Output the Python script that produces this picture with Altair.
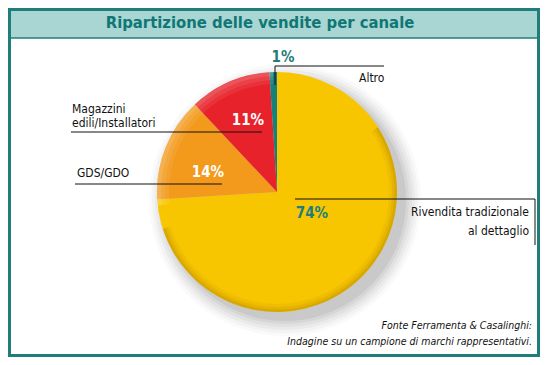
import altair as alt
import pandas as pd

# ---- data ----
categories = ["Rivendita tradizionale al dettaglio", "GDS/GDO",
              "Magazzini edili/Installatori", "Altro"]
values = [74, 14, 11, 1]
pct_labels = ["74%", "14%", "11%", "1%"]
colors = ["#f8c600", "#f39a1d", "#e8222b", "#16807c"]

title_text = "Ripartizione delle vendite per canale"
source_lines = ["Fonte Ferramenta & Casalinghi:",
                "Indagine su un campione di marchi rappresentativi."]

W, H = 532, 349
CX, CY, R = 269, 184, 120
TEAL = "#1f7e7b"
NARROW = "Liberation Sans Narrow, Arial Narrow, DejaVu Sans Condensed, sans-serif"

df = pd.DataFrame({"cat": categories, "value": values,
                   "idx": list(range(len(values)))})

base_xy = dict(x=alt.value(CX), y=alt.value(CY))
one = pd.DataFrame({"a": [0]})

# background title band
band = alt.Chart(one).mark_rect(color="#a9d6d3").encode(
    x=alt.value(0), x2=alt.value(W), y=alt.value(0), y2=alt.value(30))
band_line = alt.Chart(one).mark_rule(color=TEAL, strokeWidth=1.5).encode(
    x=alt.value(0), x2=alt.value(W), y=alt.value(30))

# soft shadow
shadow_layers = []
for k, op in [(16, 0.03), (13, 0.04), (10, 0.05), (7, 0.06), (4, 0.08), (1, 0.1)]:
    shadow_layers.append(
        alt.Chart(one).mark_arc(
            theta=0, theta2=6.2832, outerRadius=R + k, color="#555555", opacity=op
        ).encode(x=alt.value(CX + 8), y=alt.value(CY + 8)))

pie = alt.Chart(df).mark_arc(outerRadius=R).encode(
    theta=alt.Theta("value:Q", stack=True),
    color=alt.Color("cat:N", scale=alt.Scale(domain=categories, range=colors), legend=None),
    order=alt.Order("idx:Q"),
    **base_xy)

# rim shading (darker lower-right, lighter upper-left), graded
rim_layers = []
for w, op in [(8, 0.05), (5, 0.07), (2.5, 0.09)]:
    rim_layers.append(alt.Chart(one).mark_arc(
        theta=1.0, theta2=4.4, innerRadius=R - w, outerRadius=R, color="#5a3c00", opacity=op
    ).encode(**base_xy))
for w, op in [(12, 0.07), (8, 0.08), (4, 0.1)]:
    rim_layers.append(alt.Chart(one).mark_arc(
        theta=4.6, theta2=6.25, innerRadius=R - w, outerRadius=R, color="#ffffff", opacity=op
    ).encode(**base_xy))

# leader lines
lines = pd.DataFrame({
    "x": [267, 267, 63, 67, 287, 527],
    "x2": [376, 267, 254, 214, 527, 527],
    "y": [58, 58, 124, 176, 191, 191],
    "y2": [58, 77, 124, 176, 191, 237],
})
leaders = alt.Chart(lines).mark_rule(color="#111111", strokeWidth=1).encode(
    x=alt.X("x:Q", scale=None), x2="x2:Q",
    y=alt.Y("y:Q", scale=None), y2="y2:Q")


def text_layer(texts, xs, ys, align="left", size=12, weight="normal", color="#111111",
               style="normal", font=NARROW, baseline="alphabetic"):
    d = pd.DataFrame({"t": texts, "x": xs, "y": ys})
    return alt.Chart(d).mark_text(
        align=align, baseline=baseline, fontSize=size, fontWeight=weight,
        color=color, fontStyle=style, font=font
    ).encode(x=alt.X("x:Q", scale=None), y=alt.Y("y:Q", scale=None), text="t:N")


cat_left = text_layer(["Magazzini", "edili/Installatori", "GDS/GDO", "Altro"],
                      [64, 64, 69, 351], [105, 119, 169, 74])
cat_right = text_layer(["Rivendita tradizionale", "al dettaglio"],
                       [521, 521], [208, 227], align="right")

pct_white = text_layer([pct_labels[2], pct_labels[1]], [240, 200], [112, 164],
                       align="center", size=15, weight="bold", color="white",
                       baseline="middle")
pct_teal = text_layer([pct_labels[3], pct_labels[0]], [275, 304], [49, 205],
                      align="center", size=15, weight="bold", color=TEAL,
                      baseline="middle")

title = text_layer([title_text], [252], [20], align="center", size=16.5, weight="bold",
                   color="#0f7775")
source = text_layer(source_lines, [524, 524], [321, 337], align="right", size=10.5,
                    style="italic")

frame = alt.Chart(one).mark_rect(
    filled=False, stroke=TEAL, strokeWidth=3).encode(
    x=alt.value(1.5), x2=alt.value(W - 1.5), y=alt.value(1.5), y2=alt.value(H - 1.5))

chart = alt.layer(
    band, band_line, *shadow_layers, pie, *rim_layers, leaders,
    cat_left, cat_right, pct_white, pct_teal, title, source, frame
).properties(
    width=W, height=H, autosize="none", padding=0, background="white"
).configure_view(strokeWidth=0)

chart.save("out.html", embed_options={"renderer": "svg", "actions": False})
